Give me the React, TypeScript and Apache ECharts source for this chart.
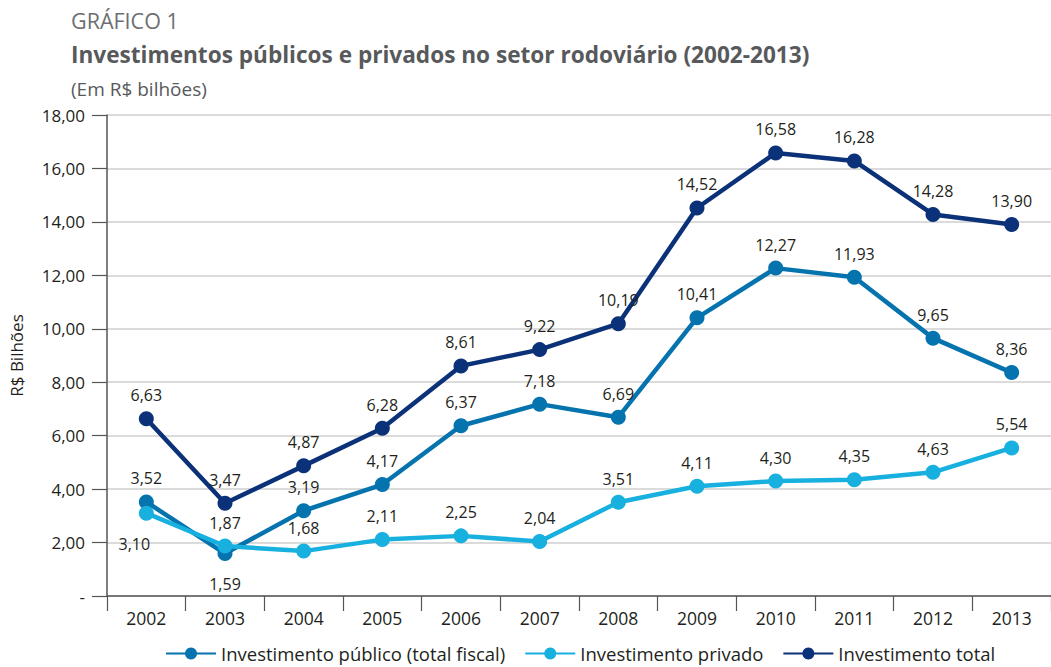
import React, { useEffect, useRef } from "react";
import * as echarts from "echarts";

const years = ["2002", "2003", "2004", "2005", "2006", "2007", "2008", "2009", "2010", "2011", "2012", "2013"];
const publico = [3.52, 1.59, 3.19, 4.17, 6.37, 7.18, 6.69, 10.41, 12.27, 11.93, 9.65, 8.36];
const privado = [3.10, 1.87, 1.68, 2.11, 2.25, 2.04, 3.51, 4.11, 4.30, 4.35, 4.63, 5.54];
const total = [6.63, 3.47, 4.87, 6.28, 8.61, 9.22, 10.19, 14.52, 16.58, 16.28, 14.28, 13.90];
const seriesNames = ["Investimento público (total fiscal)", "Investimento privado", "Investimento total"];
const colors = ["#0573ae", "#17b0df", "#0b3179"];

const FONT = "'Open Sans', 'Noto Sans', sans-serif";
const fmt = (v: number) => v.toFixed(2).replace(".", ",");

export default function App() {
  const ref = useRef<HTMLDivElement>(null);
  useEffect(() => {
    if (!ref.current) return;
    const chart = echarts.init(ref.current, undefined, { renderer: "svg" });
    const labelBase = {
      show: true,
      position: "top" as const,
      distance: 8,
      fontFamily: FONT,
      fontSize: 16,
      color: "#231f20",
      formatter: (p: any) => fmt(p.value),
    };
    const mk = (arr: number[], special: Record<number, any>) =>
      arr.map((v, i) => (special[i] ? { value: v, label: special[i] } : v));
    const lineSeries = (name: string, data: any[], color: string, z: number) => ({
      name,
      type: "line",
      data,
      color,
      lineStyle: { width: 4.5 },
      symbol: "circle",
      symbolSize: 15,
      label: labelBase,
      z,
    });
    chart.setOption({
      animation: false,
      textStyle: { fontFamily: FONT },
      title: [
        { text: "GRÁFICO 1", left: 66, top: 4, textStyle: { fontFamily: FONT, fontSize: 21.5, fontWeight: "normal", color: "#6d6e71" } },
        { text: "Investimentos públicos e privados no setor rodoviário (2002-2013)", left: 66, top: 38, textStyle: { fontFamily: FONT, fontSize: 22.6, fontWeight: "bold", color: "#58595b" } },
        { text: "(Em R$ bilhões)", left: 66, top: 74, textStyle: { fontFamily: FONT, fontSize: 19, fontWeight: "normal", color: "#58595b" } },
      ],
      legend: {
        left: 160,
        top: 639,
        itemWidth: 50,
        itemHeight: 15,
        itemGap: 19,
        data: seriesNames,
        textStyle: { fontFamily: FONT, fontSize: 18.5, color: "#231f20" },
      },
      grid: { left: 105, right: -12, top: 115, bottom: 71, containLabel: false },
      xAxis: {
        type: "category",
        data: years,
        boundaryGap: true,
        axisLine: { lineStyle: { color: "#555", width: 1.5 } },
        axisTick: { show: true, length: 15, interval: 0, lineStyle: { color: "#555", width: 1.2 } },
        axisLabel: { fontFamily: FONT, fontSize: 17.5, color: "#231f20", margin: 13, interval: 0 },
      },
      yAxis: {
        type: "value",
        min: 0,
        max: 18,
        interval: 2,
        name: "R$ Bilhões",
        nameLocation: "middle",
        nameGap: 82,
        nameTextStyle: { fontFamily: FONT, fontSize: 17, color: "#231f20" },
        axisLine: { show: true, lineStyle: { color: "#555", width: 1.5 } },
        axisTick: { show: true, length: 15, lineStyle: { color: "#555", width: 1.2 } },
        axisLabel: {
          fontFamily: FONT,
          fontSize: 17,
          color: "#231f20",
          margin: 22,
          formatter: (v: number) => (v === 0 ? "-" : fmt(v)),
        },
        splitLine: { show: true, lineStyle: { color: "#cfcfcf", width: 1.5 } },
      },
      series: [
        lineSeries(seriesNames[0], mk(publico, { 1: { position: "bottom", distance: 15 } }), colors[0], 2),
        lineSeries(seriesNames[1], mk(privado, { 0: { position: "bottom", distance: 15, offset: [-12, 0] } }), colors[1], 3),
        lineSeries(seriesNames[2], total, colors[2], 4),
      ],
    });
    return () => chart.dispose();
  }, []);
  return (
    <div
      ref={ref}
      style={{ position: "fixed", left: 0, top: 0, width: 1051, height: 667, background: "#fff" }}
    />
  );
}
